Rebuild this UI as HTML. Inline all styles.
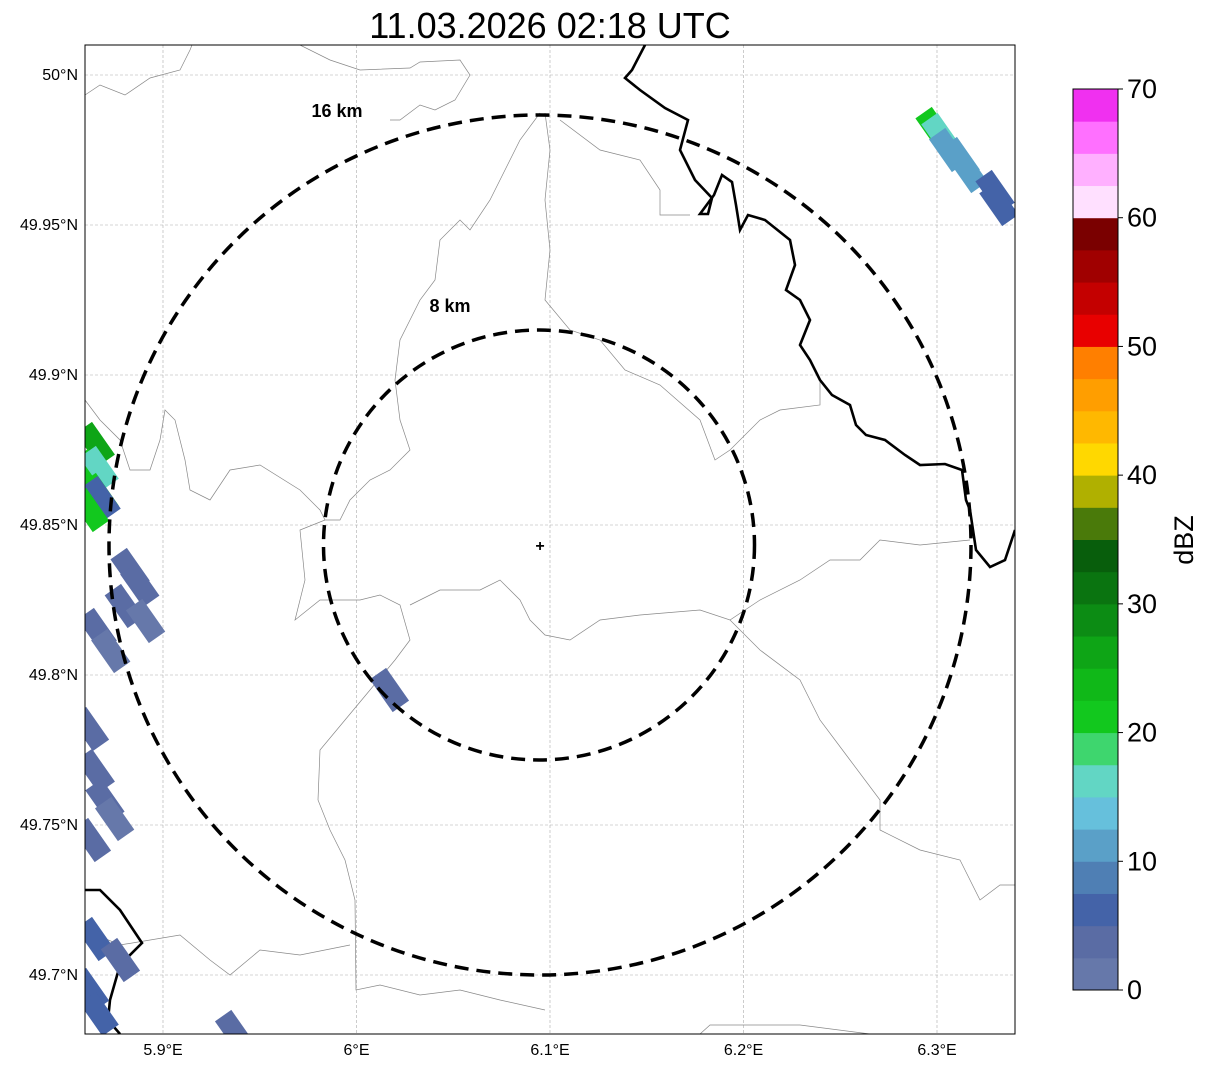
<!DOCTYPE html>
<html><head><meta charset="utf-8">
<style>
body{margin:0;background:#fff;width:1207px;height:1069px;overflow:hidden;font-family:"Liberation Sans",sans-serif;}
svg{position:absolute;left:0;top:0}
</style></head>
<body>
<svg id="s" width="1207" height="1069">
<defs><clipPath id="cp"><rect x="85" y="45" width="930" height="989"/></clipPath></defs>
<text x="550" y="38" font-size="36" text-anchor="middle" font-family="Liberation Sans, sans-serif">11.03.2026 02:18 UTC</text>
<g id="grid"></g>
<g id="geo" clip-path="url(#cp)">
<path d="M85,95 L100,85 L125,95 L150,78 L180,70 L190,50 L192,45" fill="none" stroke="#888" stroke-width="0.7"/>
<path d="M300,45 L330,60 L360,70 L410,68 L420,62 L460,60 L470,75 L455,100 L435,110 L420,105 L400,120 L390,120" fill="none" stroke="#888" stroke-width="0.7"/>
<path d="M540,113 L520,140 L505,170 L490,200 L470,230 L460,220 L440,240 L435,280 L420,300 L400,340 L395,380 L400,420 L410,450 L390,470 L370,480 L350,500 L340,520 L325,520 L300,530 L305,580 L295,620 L320,600 L360,600 L380,595 L400,605 L410,640 L395,660 L370,690 L345,720 L320,750 L318,800 L330,830 L345,860 L355,900 L356,990 L380,985 L420,995 L460,990 L500,1000 L545,1010" fill="none" stroke="#888" stroke-width="0.7"/>
<path d="M85,400 L100,420 L120,440 L130,470 L150,470 L160,440 L165,410 L175,420 L185,460 L190,490 L210,500 L230,470 L260,465 L300,490 L320,510 L325,520" fill="none" stroke="#888" stroke-width="0.7"/>
<path d="M545,113 L550,150 L545,200 L550,250 L545,300 L570,330 L600,340 L625,370 L660,385 L700,420 L715,460 L730,450 L760,420 L780,410 L820,405 L820,380" fill="none" stroke="#888" stroke-width="0.7"/>
<path d="M560,120 L600,150 L640,160 L660,190 L660,215 L690,215" fill="none" stroke="#888" stroke-width="0.7"/>
<path d="M410,605 L440,590 L480,590 L500,580 L520,600 L530,620 L545,635 L570,640 L600,620 L640,615 L700,610 L730,620 L760,600 L800,580 L830,560 L860,560 L880,540 L920,545 L970,540" fill="none" stroke="#888" stroke-width="0.7"/>
<path d="M730,620 L760,650 L800,680 L820,720 L850,760 L880,800 L880,830 L920,850 L960,860 L980,900 L1000,885 L1015,885" fill="none" stroke="#888" stroke-width="0.7"/>
<path d="M85,930 L120,945 L180,935 L210,960 L230,975 L260,950 L300,955 L350,945" fill="none" stroke="#888" stroke-width="0.7"/>
<path d="M700,1034 L710,1025 L800,1025 L870,1034" fill="none" stroke="#888" stroke-width="0.7"/>
<path d="M645,45 L632,70 L625,78 L640,90 L665,108 L688,120 L680,150 L695,180 L712,198 L708,214 L700,214 L714,195 L722,175 L732,182 L736,205 L740,230 L748,215 L765,220 L790,240 L795,265 L786,290 L800,300 L810,320 L800,345 L810,360 L820,380 L832,395 L850,405 L856,425 L866,435 L885,440 L905,455 L920,465 L945,464 L962,470 L966,500 L970,510 L976,550 L990,567 L1005,560 L1015,530" fill="none" stroke="#000" stroke-width="2.6"/>
<path d="M85,890 L100,890 L120,910 L142,943 L120,965 L110,1000 L108,1020 L120,1034" fill="none" stroke="#000" stroke-width="2.6"/>
</g>
<g id="echo" clip-path="url(#cp)"></g>
<g id="rings">
<ellipse cx="540" cy="545" rx="431" ry="430" fill="none" stroke="#000" stroke-width="3.5" stroke-dasharray="14,8"/>
<ellipse cx="539" cy="545" rx="215.5" ry="215" fill="none" stroke="#000" stroke-width="3.5" stroke-dasharray="14,8"/>
<text x="337" y="117" font-size="18" font-weight="bold" text-anchor="middle">16 km</text>
<text x="450" y="312" font-size="18" font-weight="bold" text-anchor="middle">8 km</text>
<text x="540" y="551" font-size="16" font-weight="bold" text-anchor="middle">+</text>
</g>
<rect x="85" y="45" width="930" height="989" fill="none" stroke="#000" stroke-width="1"/>
<g id="ticks"></g>
<g id="cbar"></g>
</svg>
<script>
const NS="http://www.w3.org/2000/svg";
const lonTicks=[5.9,6.0,6.1,6.2,6.3];
const lonLabels=["5.9°E","6°E","6.1°E","6.2°E","6.3°E"];
const latTicks=[50.0,49.95,49.9,49.85,49.8,49.75,49.7];
const latLabels=["50°N","49.95°N","49.9°N","49.85°N","49.8°N","49.75°N","49.7°N"];
const echoLon=[5.865,5.863,5.867,5.867,5.868,5.862,5.883,5.888,5.880,5.891,5.866,5.873,5.862,5.865,5.870,5.875,5.863,5.865,5.878,5.862,5.867,6.017,6.299,6.302,6.306,6.312,6.316,6.330,6.332,5.937];
const echoLat=[49.877,49.868,49.869,49.860,49.859,49.855,49.835,49.830,49.823,49.818,49.815,49.808,49.782,49.768,49.758,49.752,49.745,49.712,49.705,49.695,49.687,49.795,49.982,49.980,49.975,49.972,49.968,49.961,49.957,49.681];
const echoDbz=[25,22,15,20,7,22,3,3,3,2,3,2,3,3,3,2,3,5,3,5,5,3,20,15,10,10,10,7,7,3];
const cbLevels=[0,10,20,30,40,50,60,70];
const cbColors=["#6678aa","#5a6ca4","#4463a8","#4f7fb4","#5aa0c8","#66c0dc","#62d6c4","#3ed66e","#12c81e","#10b818","#0ea516","#0c8c14","#0a7410","#085e0c","#4a7a0a","#b0b000","#ffd800","#ffb800","#ff9e00","#ff7f00","#e80000","#c40000","#a00000","#7a0000","#ffe0ff","#ffb0ff","#ff70ff","#f030f0"];
const X=lon=>163+(lon-5.9)*1935;
const Y=lat=>75+(50-lat)*3000;
const CB=v=>990-(v/70)*901;
function mk(t,a,p){const e=document.createElementNS(NS,t);for(const k in a)e.setAttribute(k,a[k]);p.appendChild(e);return e;}
const grid=document.getElementById('grid'),ticks=document.getElementById('ticks');
lonTicks.forEach((v,i)=>{
 const l=mk('line',{x1:X(v),x2:X(v),y1:45,y2:1034,stroke:'#aaa','stroke-width':0.6,'stroke-dasharray':'3,2'},grid);
 
 
 const t=mk('text',{x:X(v),y:1055,'font-size':16,'text-anchor':'middle'},ticks);t.textContent=lonLabels[i];
 
 
});
latTicks.forEach((v,i)=>{
 const l=mk('line',{x1:85,x2:1015,y1:Y(v),y2:Y(v),stroke:'#aaa','stroke-width':0.6,'stroke-dasharray':'3,2'},grid);
 
 
 const t=mk('text',{x:78,y:Y(v)+5,'font-size':16,'text-anchor':'end'},ticks);t.textContent=latLabels[i];
 
 
});
const echo=document.getElementById('echo');
function colorFor(d){return cbColors[Math.min(27,Math.max(0,Math.floor(d/2.5)))];}
echoLon.forEach((lo,i)=>{
 const x=X(lo),y=Y(echoLat[i]);
 const r=mk('rect',{x:x-20,y:y-10,width:40,height:20,fill:colorFor(echoDbz[i]),transform:`rotate(55 ${x} ${y})`},echo);
 
 
});
const cb=document.getElementById('cbar');
cbColors.forEach((c,i)=>{
 const r=mk('rect',{x:1073,y:CB((i+1)*2.5),width:45,height:CB(i*2.5)-CB((i+1)*2.5)+0.5,fill:c},cb);
 
 
});
mk('rect',{x:1073,y:89,width:45,height:901,fill:'none',stroke:'#000','stroke-width':1},cb);
cbLevels.forEach(v=>{
 mk('line',{x1:1118,x2:1123,y1:CB(v),y2:CB(v),stroke:'#000'},cb);
 const t=mk('text',{x:1127,y:CB(v)+9,'font-size':27},cb);t.textContent=v;
 
 
});
const lab=mk('text',{x:1193,y:540,'font-size':27,'text-anchor':'middle',transform:'rotate(-90 1193 540)'},cb);lab.textContent='dBZ';


</script>
</body></html>
